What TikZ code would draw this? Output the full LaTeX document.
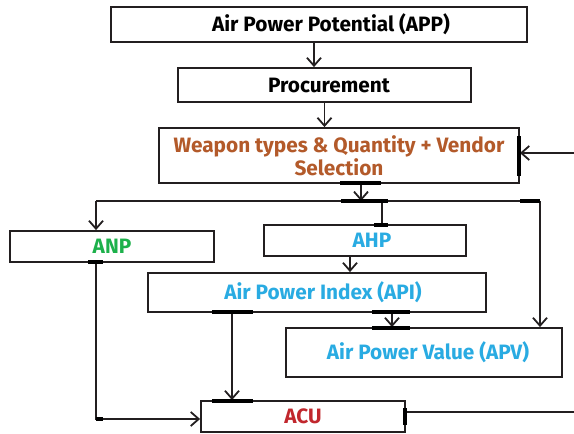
\documentclass[tikz,border=0pt]{standalone}
\usepackage{fontspec}
\setmainfont{Fira Sans}
\usetikzlibrary{arrows.meta,calc}
\definecolor{lnc}{HTML}{231F20}
\definecolor{brn}{HTML}{B35A2A}
\definecolor{grn}{HTML}{1DB14B}
\definecolor{blu}{HTML}{29ABE2}
\definecolor{rd}{HTML}{C1272D}
\begin{document}
\begin{tikzpicture}[x=1pt,y=-1pt,
  box/.style={draw=lnc,line width=1.8pt,fill=white,inner sep=0pt,
    font=\fontsize{20.8}{20}\selectfont\bfseries,align=center},
  arr/.style={draw=lnc,line width=1.8pt,-{Straight Barb[length=8pt,width=14pt,line width=1.8pt]}},
  conn/.style={draw=lnc,line width=1.8pt},
  tickmark/.style={draw=black,line width=3.5pt}]
\useasboundingbox[fill=white] (0,0) rectangle (574,434);
% boxes
\node[box,minimum width=416pt,minimum height=35pt] (app) at (319,24.5) {\hspace*{24pt}Air Power Potential (APP)};
\node[box,minimum width=293pt,minimum height=34pt] (proc) at (324.5,85) {\hspace*{9pt}Procurement};
\node[box,minimum width=360pt,minimum height=55pt,text=brn] (wp) at (339,155.5) {Weapon types \& Quantity + Vendor\\Selection};
\node[box,minimum width=204pt,minimum height=31pt,text=grn] (anp) at (112,246.5) {ANP};
\node[box,minimum width=202pt,minimum height=31pt,text=blu] (ahp) at (365,240.5) {\hspace*{14pt}AHP};
\node[box,minimum width=338pt,minimum height=39pt,text=blu] (api) at (317,292.5) {\hspace*{12pt}Air Power Index (API)};
\node[box,minimum width=276pt,minimum height=49pt,text=blu] (apv) at (424,352.5) {\hspace*{8pt}Air Power Value (APV)};
\node[box,minimum width=204pt,minimum height=31pt,text=rd] (acu) at (303,416.5) {ACU};
% bus and feedback coordinates
\coordinate (busL) at (96,201);
\coordinate (busR) at (540,201);
\coordinate (fbA) at (574,412);
\coordinate (fbB) at (574,153);
% connectors
\draw[arr] ([xshift=-5pt]app.south) -- ([xshift=-5pt]app.south |- proc.north);
\draw[arr] (proc.south) -- (proc.south |- wp.north);
\draw[arr] ([xshift=22pt]wp.south) -- ([xshift=22pt]wp.south |- busL);
\draw[conn] (busL) -- (busR);
\draw[arr] (busL) -- (busL |- anp.north);
\draw[conn] ([xshift=17pt]ahp.north |- busL) -- ([xshift=17pt]ahp.north);
\draw[arr] (busR) -- (busR |- apv.north);
\draw[arr] ([xshift=-15pt]ahp.south) -- ([xshift=-15pt]ahp.south |- api.north);
\draw[arr] ([xshift=75pt]api.south) -- ([xshift=75pt]api.south |- apv.north);
\draw[arr] ([xshift=-85pt]api.south) -- ([xshift=-85pt]api.south |- acu.north);
\draw[arr] ([xshift=-16pt]anp.south) |- ([yshift=-2.5pt]acu.west);
\draw[conn] (acu.east |- fbA) -- (fbA);
\draw[arr] (fbB) -- (wp.east |- fbB);
% thick ticks
\draw[tickmark] (519,136) -- (519,176);
\draw[tickmark] (340,183) -- (381,183);
\draw[tickmark] (341,201) -- (388,201);
\draw[tickmark] (520,201) -- (540,201);
\draw[tickmark] (374,225) -- (388,225);
\draw[tickmark] (88,262) -- (103,262);
\draw[tickmark] (212,312) -- (253,312);
\draw[tickmark] (372,312) -- (410,312);
\draw[tickmark] (372,328) -- (410,328);
\draw[tickmark] (212,401) -- (253,401);
\draw[tickmark] (405,408) -- (405,425);
\draw[tickmark] (96,419) -- (103,419);
\end{tikzpicture}
\end{document}
